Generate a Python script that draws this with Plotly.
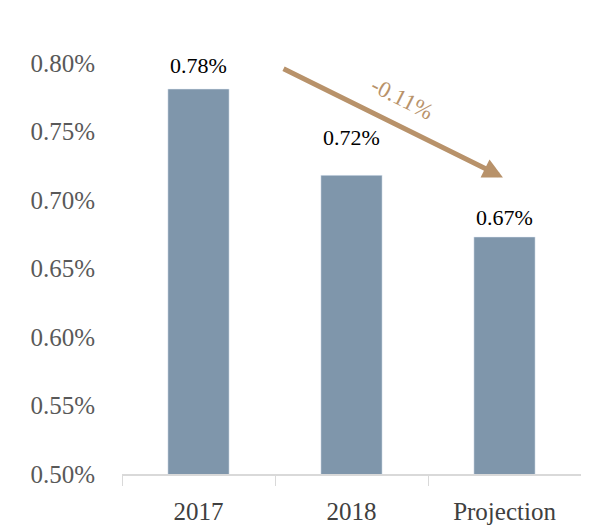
import plotly.graph_objects as go

categories = ["2017", "2018", "Projection"]
values = [0.781, 0.718, 0.673]
value_labels = ["0.78%", "0.72%", "0.67%"]
change_label = "-0.11%"
y_ticks = [0.50, 0.55, 0.60, 0.65, 0.70, 0.75, 0.80]
y_tick_labels = ["0.50%", "0.55%", "0.60%", "0.65%", "0.70%", "0.75%", "0.80%"]

# pixel gaps between each bar top and its value label (layout only)
label_gaps = [9, 23, 5]

FONT = "Liberation Serif, DejaVu Serif, serif"
BAR = "#7f96ab"
ARROW = "#b8926a"

fig = go.Figure()
fig.add_trace(go.Bar(
    x=categories, y=values, width=0.4, marker_color=BAR, cliponaxis=False,
))

for i, (v, t) in enumerate(zip(values, value_labels)):
    fig.add_annotation(
        x=i, y=v, text=t, showarrow=False, yanchor="bottom", yshift=label_gaps[i],
        font=dict(family=FONT, size=22, color="#000000"),
    )

# arrow showing the trend from 2017 to the projection
fig.add_annotation(
    x=1.99, y=0.7165, ax=0.546, ay=0.7963,
    xref="x", yref="y", axref="x", ayref="y",
    showarrow=True, arrowhead=2, arrowsize=0.8, arrowwidth=5,
    arrowcolor=ARROW, text="",
)
fig.add_annotation(
    x=1.33, y=0.774, xref="x", yref="y", text=change_label, showarrow=False,
    textangle=27, font=dict(family=FONT, size=23, color=ARROW),
)

# page body has an 8px default margin, so the figure is sized to fit inside it
fig.update_layout(
    width=581, height=521,
    margin=dict(l=114, r=8, t=55, b=55),
    plot_bgcolor="white", paper_bgcolor="white",
    showlegend=False,
    xaxis=dict(
        automargin=False,
        showline=True, linecolor="#d9d9d9", linewidth=1.5,
        ticks="outside", tickson="boundaries", ticklen=10, tickcolor="#d9d9d9",
        tickfont=dict(family=FONT, size=25, color="#404040"),
        ticklabelstandoff=14,
        showgrid=False, range=[-0.5, 2.5],
    ),
    yaxis=dict(
        automargin=False,
        range=[0.5, 0.8], tickvals=y_ticks, ticktext=y_tick_labels,
        showgrid=False, zeroline=False, showline=False,
        tickfont=dict(family=FONT, size=25, color="#595959"),
        ticklabelstandoff=26,
    ),
)

fig.write_html("out.html")
